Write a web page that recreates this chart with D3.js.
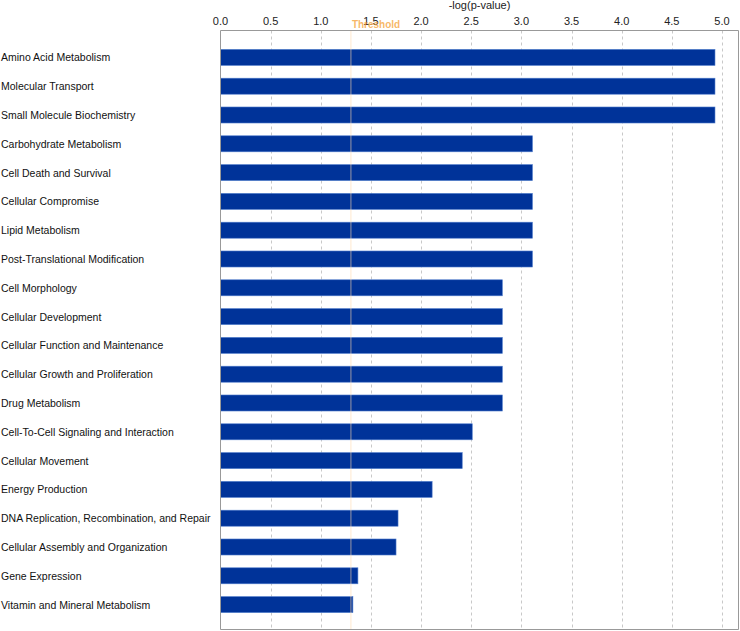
<!DOCTYPE html>
<html><head><meta charset="utf-8">
<script src="https://cdn.jsdelivr.net/npm/d3@7"></script>
<style>body{margin:0;background:#fff}svg{display:block}</style>
</head><body>
<svg id="c" width="740" height="631"></svg>
<script>
const categories = ["Amino Acid Metabolism","Molecular Transport","Small Molecule Biochemistry","Carbohydrate Metabolism","Cell Death and Survival","Cellular Compromise","Lipid Metabolism","Post-Translational Modification","Cell Morphology","Cellular Development","Cellular Function and Maintenance","Cellular Growth and Proliferation","Drug Metabolism","Cell-To-Cell Signaling and Interaction","Cellular Movement","Energy Production","DNA Replication, Recombination, and Repair","Cellular Assembly and Organization","Gene Expression","Vitamin and Mineral Metabolism"];
const values = [4.93,4.93,4.93,3.11,3.11,3.11,3.11,3.11,2.81,2.81,2.81,2.81,2.81,2.51,2.41,2.11,1.77,1.75,1.37,1.32];
const ticks = [0,0.5,1,1.5,2,2.5,3,3.5,4,4.5,5];
const threshold = 1.3;
const axisTitle = "-log(p-value)";

const svg = d3.select("#c");
const font = "'Liberation Sans', Arial, sans-serif";
const L = 220.5, R = 738.5, T = 30.5, B = 629.5;
const x = d3.scaleLinear().domain([0,5]).range([L, L + 501.5]);
const y = d3.scaleBand().domain(categories).range([43, 619]).paddingInner(0.444).paddingOuter(0.222);

// gridlines
svg.append("g").selectAll("line").data(ticks.slice(1)).join("line")
  .attr("x1", d => Math.round(x(d)) + 0.5).attr("x2", d => Math.round(x(d)) + 0.5)
  .attr("y1", T).attr("y2", B)
  .attr("stroke", "#c8c8c8").attr("stroke-dasharray", "3,3");

// tick labels
svg.append("g").selectAll("text").data(ticks).join("text")
  .attr("x", d => x(d)).attr("y", 25).attr("text-anchor", "middle")
  .attr("font-family", font).attr("font-size", 11).attr("fill", "#222")
  .text(d => d.toFixed(1));

svg.append("text").attr("x", (L + R) / 2).attr("y", 9).attr("text-anchor", "middle")
  .attr("font-family", font).attr("font-size", 11).attr("fill", "#222").text(axisTitle);

// bars
svg.append("g").selectAll("rect").data(categories).join("rect")
  .attr("x", L).attr("y", d => y(d))
  .attr("width", (d, i) => x(values[i]) - L).attr("height", y.bandwidth())
  .attr("fill", "#003399").attr("stroke", "#4f7ccc").attr("stroke-width", 0.6);

// category labels
svg.append("g").selectAll("text").data(categories).join("text")
  .attr("x", 1).attr("y", d => y(d) + y.bandwidth() / 2 + 4)
  .attr("font-family", font).attr("font-size", 10.5).attr("fill", "#111")
  .text(d => d);

// threshold
svg.append("line").attr("x1", x(threshold)).attr("x2", x(threshold)).attr("y1", T).attr("y2", B)
  .attr("stroke", "#ffd9b0").attr("stroke-opacity", 0.4).attr("stroke-width", 1.5);
svg.append("text").attr("x", x(threshold) + 1).attr("y", 28)
  .attr("font-family", font).attr("font-size", 10).attr("font-weight", "bold")
  .attr("fill", "#f5a033").attr("fill-opacity", 0.75).text("Threshold");

// frame
svg.append("path").attr("d", `M${L},${B}V${T}H${R}V${B}H${L}`)
  .attr("fill", "none").attr("stroke", "#999").attr("stroke-width", 1);
</script>
</body></html>
